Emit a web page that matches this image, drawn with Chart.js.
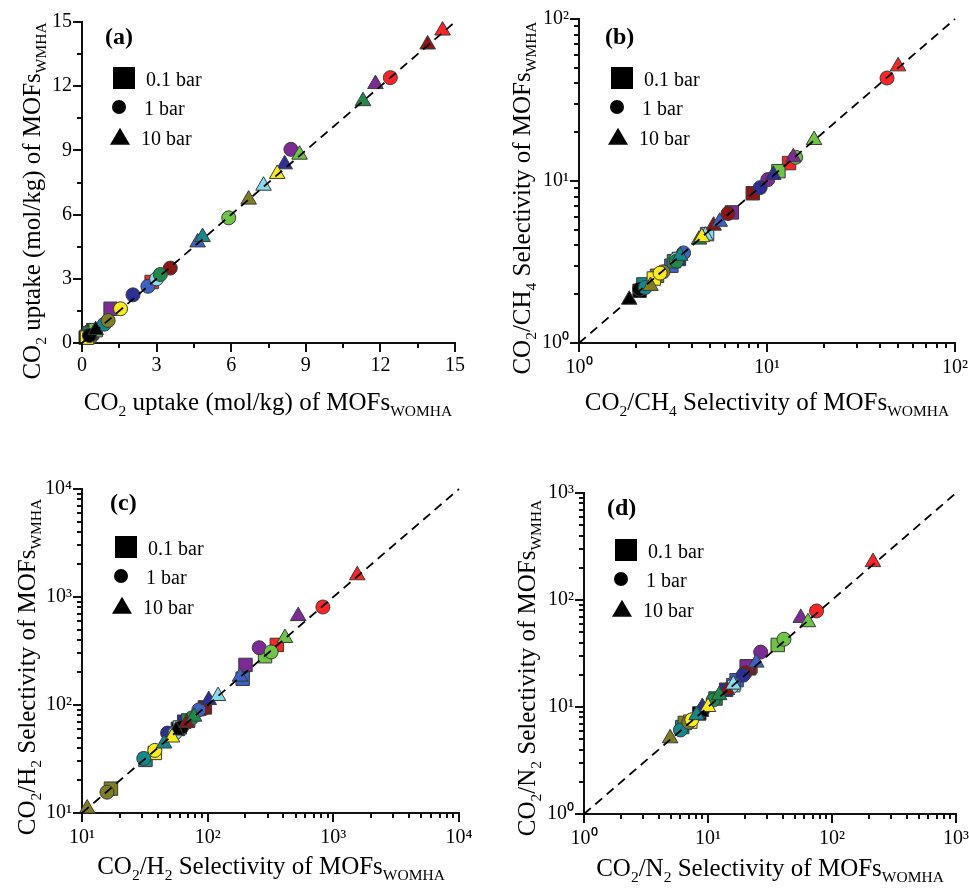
<!DOCTYPE html>
<html>
<head>
<meta charset="utf-8">
<script src="https://cdn.jsdelivr.net/npm/chart.js@4.4.0/dist/chart.umd.min.js"></script>
<style>
  body { margin:0; width:969px; height:889px; background:#fff; position:relative; overflow:hidden;
         font-family:"Liberation Serif","Times New Roman",serif; color:#000; }
  canvas { position:absolute; }
  .t { position:absolute; white-space:nowrap; font-size:25px; line-height:1; }
  .t sub { font-size:0.62em; vertical-align:-0.4em; line-height:0; }
  .ylab { transform:translate(-50%,-50%) rotate(-90deg); }
  .xlab { transform:translate(-50%,-50%); }
  .tag { position:absolute; font-weight:bold; font-size:24px; line-height:1; transform:translateY(-50%); }
  .lt { position:absolute; font-size:20px; line-height:1; transform:translateY(-50%); white-space:nowrap; }
  .sq { position:absolute; width:22px; height:22px; background:#000; transform:translate(-50%,-50%); }
  .ci { position:absolute; width:14px; height:14px; border-radius:50%; background:#000; transform:translate(-50%,-50%); }
  .tr { position:absolute; width:0; height:0; border-left:10px solid transparent; border-right:10px solid transparent;
        border-bottom:17px solid #000; transform:translate(-50%,-55%); }
</style>
</head>
<body>
<canvas id="ca"></canvas>
<canvas id="cb"></canvas>
<canvas id="cc"></canvas>
<canvas id="cd"></canvas>

<div class="t ylab" style="left:31px;top:201px">CO<sub>2</sub> uptake (mol/kg) of MOFs<sub>WMHA</sub></div>
<div class="t xlab" style="left:268px;top:401px">CO<sub>2</sub> uptake (mol/kg) of MOFs<sub>WOMHA</sub></div>
<div class="t ylab" style="left:521px;top:198px">CO<sub>2</sub>/CH<sub>4</sub> Selectivity of MOFs<sub>WMHA</sub></div>
<div class="t xlab" style="left:767px;top:401px">CO<sub>2</sub>/CH<sub>4</sub> Selectivity of MOFs<sub>WOMHA</sub></div>
<div class="t ylab" style="left:26px;top:667px">CO<sub>2</sub>/H<sub>2</sub> Selectivity of MOFs<sub>WMHA</sub></div>
<div class="t xlab" style="left:271px;top:865px">CO<sub>2</sub>/H<sub>2</sub> Selectivity of MOFs<sub>WOMHA</sub></div>
<div class="t ylab" style="left:526px;top:668px">CO<sub>2</sub>/N<sub>2</sub> Selectivity of MOFs<sub>WMHA</sub></div>
<div class="t xlab" style="left:770px;top:867px">CO<sub>2</sub>/N<sub>2</sub> Selectivity of MOFs<sub>WOMHA</sub></div>

<div class="tag" style="left:105px;top:36px">(a)</div>
<div class="tag" style="left:605px;top:36px">(b)</div>
<div class="tag" style="left:110px;top:502px">(c)</div>
<div class="tag" style="left:607px;top:507px">(d)</div>

<script>
// ================= DATA =================
// one colour per MOF, same order in every array below
const mofColors = ["#000000", "#ff2424", "#8c1515", "#7d2a96", "#2b2f96", "#3b63c4",
                   "#86dcef", "#12898f", "#1e8a4a", "#6cc644", "#7f7f22", "#fbec12"];
const pressures = ["0.1 bar", "1 bar", "10 bar"];

// (a) CO2 uptake, mol/kg : [WOMHA, WMHA]
const upSq = [[0.15,0.25],[2.8,2.85],[0.45,0.6],[1.15,1.6],[0.4,0.5],[0.35,0.45],[0.3,0.35],[0.2,0.3],[0.3,0.45],[0.55,0.6],[0.25,0.3],[0.2,0.25]];
const upCi = [[0.3,0.35],[12.4,12.4],[3.55,3.5],[8.4,9.05],[2.05,2.25],[2.65,2.65],[3.0,3.0],[0.9,0.88],[3.15,3.2],[5.9,5.85],[1.05,1.05],[1.55,1.6]];
const upTr = [[0.55,0.6],[14.5,14.6],[13.9,13.95],[11.8,12.1],[8.15,8.35],[4.65,4.7],[7.3,7.35],[4.85,4.95],[11.3,11.3],[8.75,8.8],[6.7,6.7],[7.85,7.9]];

// (b) CO2/CH4 selectivity
const chSq = [[2.1,2.1],[13.1,12.9],[8.4,8.4],[6.5,6.4],[3.4,3.3],[3.1,3.0],[4.8,4.7],[2.2,2.3],[3.2,3.2],[11.5,11.5],[2.6,2.6],[2.5,2.5]];
const chCi = [[2.1,2.15],[43.5,43.2],[6.2,6.3],[10.1,10.2],[9.2,9.1],[3.6,3.6],[3.3,3.3],[2.25,2.2],[3.3,3.2],[14.2,14.0],[2.8,2.75],[2.7,2.7]];
const chTr = [[1.85,1.85],[49.8,51],[5.2,5.3],[13.8,14],[10.8,10.9],[5.6,5.6],[4.7,4.6],[3.45,3.45],[4.35,4.35],[17.8,17.9],[2.4,2.25],[4.5,4.5]];

// (c) CO2/H2 selectivity
const h2Sq = [[58,60],[355,360],[95,95],[200,235],[65,70],[190,175],[60,62],[32,31],[70,72],[286,283],[17,16.8],[38,36]];
const h2Ci = [[62,62],[826,808],[92,92],[257,339],[48,55],[85,90],[55,55],[31,32],[75,76],[320,310],[15.8,15.6],[38,38]];
const h2Tr = [[56,58],[1550,1590],[68,68],[525,665],[102,111],[181,183],[121,121],[45,44],[78,78],[412,417],[11,11],[52,50]];

// (d) CO2/N2 selectivity
const n2Sq = [[8.5,8.7],[22,24],[21.5,23],[20.5,24],[14,14.5],[17,17.8],[16,16],[6.2,6.5],[11.5,12],[36.5,38],[6.5,7.1],[7.2,7.3]];
const n2Ci = [[9,9.2],[75,79],[20,21],[26.6,32.6],[19.2,19.8],[16,16.5],[15.5,15.5],[6.0,6.1],[11,11.6],[41,43],[7,7.2],[7.4,7.6]];
const n2Tr = [[8.8,9],[214,226],[14.2,14.4],[56,68],[9,10],[24.5,26],[16,16.2],[8.1,8.4],[12.3,12.9],[64,62],[4.95,5.1],[10,10]];

// axis ranges and ticks
const upRange = [0, 15];
const chRange = [1, 100];
const h2Range = [10, 10000];
const n2Range = [1, 1000];
const upTicks = [0, 1.5, 3, 4.5, 6, 7.5, 9, 10.5, 12, 13.5, 15];
const upLabelled = [0, 3, 6, 9, 12, 15];
const decadeSteps = [1, 2, 3, 4, 5, 6, 7, 8, 9];

// ================= HELPERS =================
const FONT = "'Liberation Serif', 'Times New Roman', serif";
const SUP = ["\u2070", "\u00b9", "\u00b2", "\u00b3", "\u2074"];
const AXIS_COLOR = "#111";

function pts(arr) {
  return arr.map(([x, y]) => ({ x, y }));
}

function isPow10(v) {
  const e = Math.log10(v);
  return Math.abs(e - Math.round(e)) < 1e-9;
}

function logTicks(range) {
  const out = [];
  const e0 = Math.round(Math.log10(range[0]));
  const e1 = Math.round(Math.log10(range[1]));
  for (let e = e0; e < e1; e++) {
    decadeSteps.forEach((s) => out.push(s * Math.pow(10, e)));
  }
  out.push(range[1]);
  return out;
}

// outward tick marks: long for labelled ticks, short for the others
function tickPlugin(isMajor) {
  return {
    id: "tickMarks",
    afterDraw(chart) {
      const ctx = chart.ctx;
      const xs = chart.scales.x;
      const ys = chart.scales.y;
      ctx.save();
      ctx.fillStyle = AXIS_COLOR;
      xs.ticks.forEach((t) => {
        const px = Math.round(xs.getPixelForValue(t.value));
        const len = isMajor(t.value) ? 9 : 5;
        ctx.fillRect(px - 1, xs.top, 2, len);
      });
      ys.ticks.forEach((t) => {
        const py = Math.round(ys.getPixelForValue(t.value));
        const len = isMajor(t.value) ? 9 : 5;
        ctx.fillRect(ys.right - len, py - 1, len, 2);
      });
      ctx.restore();
    },
  };
}

function makePanel(canvasId, box, sq, ci, tr, range, log) {
  // box = plot area [left, top, right, bottom] in page pixels
  const padL = 60, padT = 15, padR = 20, padB = 45;
  const cv = document.getElementById(canvasId);
  const w = box[2] - box[0] + padL + padR;
  const h = box[3] - box[1] + padT + padB;
  cv.width = w; cv.height = h;
  cv.style.left = (box[0] - padL) + "px";
  cv.style.top = (box[1] - padT) + "px";
  cv.style.width = w + "px";
  cv.style.height = h + "px";

  const tickValues = log ? logTicks(range) : upTicks;
  const isMajor = log ? isPow10 : (v) => upLabelled.includes(v);
  const label = log
    ? (v) => (isPow10(v) ? "10" + SUP[Math.round(Math.log10(v))] : "")
    : (v) => (isMajor(v) ? String(v) : "");

  const axis = (pos) => ({
    type: log ? "logarithmic" : "linear",
    position: pos,
    min: range[0],
    max: range[1],
    border: { display: true, color: AXIS_COLOR, width: 2 },
    grid: {
      display: true,
      drawOnChartArea: false,
      drawTicks: true,
      tickLength: 5,
      tickColor: "rgba(0,0,0,0)",
    },
    ticks: {
      autoSkip: false,
      maxRotation: 0,
      padding: pos === "bottom" ? (log ? 8 : 6) : 5,
      color: "#000",
      font: { family: FONT, size: 20 },
      callback: label,
    },
    afterBuildTicks(s) {
      s.ticks = tickValues.map((v) => ({ value: v }));
    },
    afterFit(s) {
      if (pos === "left") s.width = padL; else s.height = padB;
      s.paddingLeft = s.paddingRight = s.paddingTop = s.paddingBottom = 0;
    },
  });

  const markerSet = (name, data, style, r) => ({
    label: name,
    data: pts(data),
    pointStyle: style,
    pointRadius: r,
    pointHoverRadius: r,
    pointBackgroundColor: mofColors,
    pointBorderColor: "#3a3a3a",
    pointBorderWidth: 1,
    showLine: false,
    clip: false,
  });

  new Chart(cv, {
    type: "scatter",
    data: {
      datasets: [
        {
          label: "y = x",
          data: [{ x: range[0], y: range[0] }, { x: range[1], y: range[1] }],
          showLine: true,
          borderColor: "#000",
          borderWidth: 1.8,
          borderDash: [9, 6],
          pointRadius: 0,
          clip: false,
        },
        markerSet(pressures[2], tr, "triangle", 9),
        markerSet(pressures[1], ci, "circle", 7),
        markerSet(pressures[0], sq, "rect", 9.5),
      ],
    },
    options: {
      responsive: false,
      animation: false,
      layout: { padding: { top: padT, right: padR, left: 0, bottom: 0 } },
      plugins: { legend: { display: false }, tooltip: { enabled: false } },
      scales: { x: axis("bottom"), y: axis("left") },
    },
    plugins: [tickPlugin(isMajor)],
  });
}

// ================= LEGENDS =================
function addLegend(x, y) {
  const rows = [
    { cls: "sq", dx: 0, dy: 0, tx: 22 },
    { cls: "ci", dx: -5, dy: 29, tx: 20 },
    { cls: "tr", dx: -4, dy: 59, tx: 17 },
  ];
  rows.forEach((r, i) => {
    const m = document.createElement("div");
    m.className = r.cls;
    m.style.left = x + r.dx + "px";
    m.style.top = y + r.dy + "px";
    document.body.appendChild(m);
    const t = document.createElement("div");
    t.className = "lt";
    t.textContent = pressures[i];
    t.style.left = x + r.tx + "px";
    t.style.top = y + r.dy + 1 + "px";
    document.body.appendChild(t);
  });
}

// ================= PANELS =================
makePanel("ca", [82, 22, 455, 343], upSq, upCi, upTr, upRange, false);
makePanel("cb", [579, 19, 955, 343], chSq, chCi, chTr, chRange, true);
makePanel("cc", [82, 489, 459, 813], h2Sq, h2Ci, h2Tr, h2Range, true);
makePanel("cd", [584, 493, 956, 814], n2Sq, n2Ci, n2Tr, n2Range, true);

addLegend(124, 78);
addLegend(622, 78);
addLegend(126, 547);
addLegend(626, 550);
</script>
</body>
</html>
